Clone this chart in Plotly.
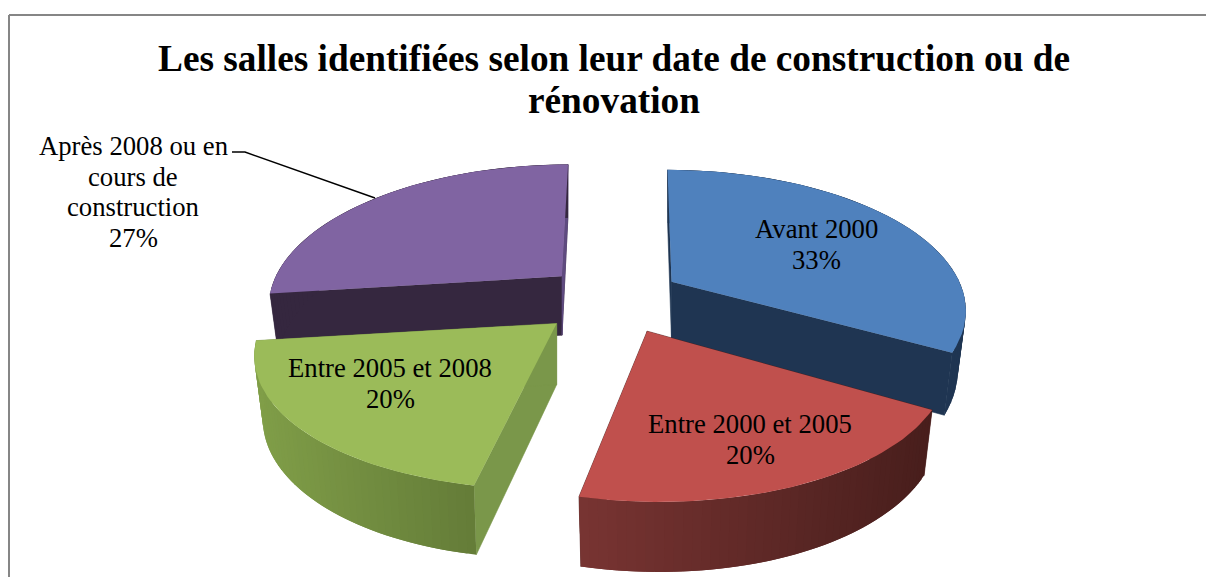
import math
import plotly.graph_objects as go

title_lines = ["Les salles identifiées selon leur date de construction ou de", "rénovation"]
categories = ["Avant 2000", "Entre 2000 et 2005", "Entre 2005 et 2008", "Après 2008 ou en cours de construction"]
values = [33, 20, 20, 27]
label_lines = [["Avant 2000"], ["Entre 2000 et 2005"], ["Entre 2005 et 2008"],
               ["Après 2008 ou en", "cours de", "construction"]]
top_colors = ["#4f81bd", "#c0504d", "#9bbb59", "#8064a2"]
cut_colors = ["#1f3552", "#4f201e", "#7a974a", "#35273f"]
wall_left = [(31, 53, 82), (120, 52, 50), (128, 158, 72), (53, 39, 63)]
wall_right = [(31, 53, 82), (72, 30, 28), (100, 124, 56), (53, 39, 63)]
slice_shear = [0.036, 0, -0.09, -0.054]
slice_rx = [1, 0.975, 0.98, 1]
slice_ry = [1, 1.03, 1, 1]
slice_tilt = [0, 0.02, 0, 0]
label_pos = [(816, 229), (750, 424), (390, 368), (133, 146)]
draw_order = [3, 0, 2, 1]

CX, CY = 613, 299.5
EX, EY = 68, 35
R, TILT, PERSP, SLICE_SCALE = 293, 133.5, 0.194, 0.035
LINE_H = 30.5


def project(theta, mid, i):
    sx, cy = math.sin(theta), math.cos(theta)
    s = 1 / (1 + PERSP * cy)
    y = -TILT * slice_ry[i] * cy * s
    x = R * slice_rx[i] * (1 - SLICE_SCALE * math.cos(mid)) * sx * s + slice_shear[i] * y
    return x, y + slice_tilt[i] * x


def lowered(x, y, ax):
    return ax + (x - ax) * 0.972, y + 60 + (y - 300) * 0.05


def rgb(c):
    return f"rgb({c[0]:.0f},{c[1]:.0f},{c[2]:.0f})"


fig = go.Figure()


def poly(xs, ys, color, width=0.6):
    fig.add_trace(go.Scatter(x=xs, y=ys, mode="lines", fill="toself", fillcolor=color,
                             line=dict(color=color, width=width), hoverinfo="skip", showlegend=False))


total = sum(values)
starts, acc = [], 0
for v in values:
    starts.append(acc)
    acc += v

for i in draw_order:
    a0 = 2 * math.pi * starts[i] / total
    a1 = 2 * math.pi * (starts[i] + values[i]) / total
    mid = (a0 + a1) / 2
    ax = CX + EX * (1 + 0.2 * max(0, -math.cos(mid))) * math.sin(mid)
    ay = CY - EY * math.cos(mid)
    n = 48
    arc = []
    for k in range(n + 1):
        dx, dy = project(a0 + (a1 - a0) * k / n, mid, i)
        arc.append((ax + dx, ay + dy))
    low_a = lowered(ax, ay, ax)
    for p in (arc[0], arc[-1]):
        lp = lowered(p[0], p[1], ax)
        poly([ax, p[0], lp[0], low_a[0], ax], [ay, p[1], lp[1], low_a[1], ay], cut_colors[i])
    if i == 3:
        p = arc[-1]
        lp = lowered(p[0], p[1], ax)
        poly([ax, p[0], lp[0], low_a[0], ax], [ay, p[1], lp[1], low_a[1], ay], "#5f4b80")
    xmin = min(p[0] for p in arc)
    xmax = max(p[0] for p in arc)
    for k in range(n):
        p, q = arc[k], arc[min(k + 2, n)]
        lp, lq = lowered(p[0], p[1], ax), lowered(q[0], q[1], ax)
        t = ((p[0] + arc[k + 1][0]) / 2 - xmin) / (xmax - xmin)
        col = [wall_left[i][j] + (wall_right[i][j] - wall_left[i][j]) * t for j in range(3)]
        poly([p[0], q[0], lq[0], lp[0], p[0]], [p[1], q[1], lq[1], lp[1], p[1]], rgb(col), width=0)
    poly([ax] + [p[0] for p in arc] + [ax], [ay] + [p[1] for p in arc] + [ay], top_colors[i], width=0)

# leader line of the last label
fig.add_trace(go.Scatter(x=[232, 245, 375], y=[152, 152, 198], mode="lines",
                         line=dict(color="black", width=1.4), hoverinfo="skip", showlegend=False))

ann = []
for j, line in enumerate(title_lines):
    ann.append(dict(x=614, y=58 + 42 * j, text=f"<b>{line}</b>", showarrow=False, xref="x", yref="y",
                    font=dict(family="Liberation Serif", size=37.3, color="black")))
for i, lines in enumerate(label_lines):
    lx, ly = label_pos[i]
    for j, line in enumerate(lines + [f"{values[i]}%"]):
        ann.append(dict(x=lx, y=ly + LINE_H * j, text=line, showarrow=False, xref="x", yref="y",
                        font=dict(family="Liberation Serif", size=26.7, color="black")))

fig.update_layout(
    width=1206, height=577, margin=dict(l=0, r=0, t=0, b=0),
    paper_bgcolor="white", plot_bgcolor="white", showlegend=False, annotations=ann,
    xaxis=dict(range=[0, 1206], visible=False, fixedrange=True),
    yaxis=dict(range=[577, 0], visible=False, fixedrange=True),
    shapes=[dict(type="line", x0=9, x1=9, y0=15, y1=577, xref="x", yref="y", line=dict(color="#868686", width=2)),
            dict(type="line", x0=9, x1=1206, y0=15, y1=15, xref="x", yref="y", line=dict(color="#868686", width=2))],
)
fig.write_html("out.html", config=dict(displayModeBar=False),
               post_script="document.body.style.margin='0';document.body.style.overflow='hidden';")
